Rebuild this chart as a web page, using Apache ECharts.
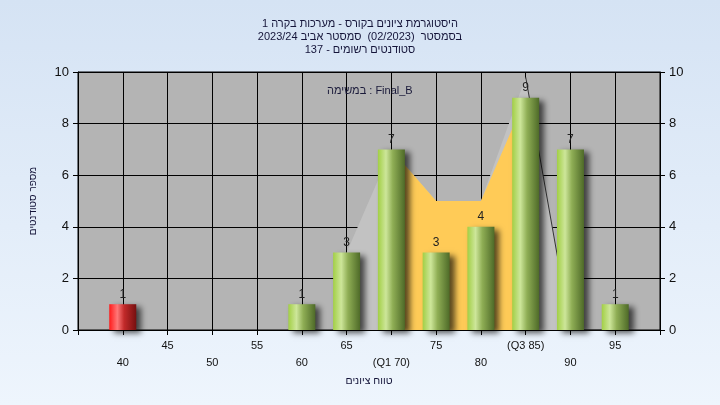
<!DOCTYPE html>
<html>
<head>
<meta charset="utf-8">
<script src="https://cdn.jsdelivr.net/npm/echarts@6/dist/echarts.min.js"></script>
<style>
html,body{margin:0;padding:0;}
body{width:720px;height:405px;background:linear-gradient(#d5e3f4,#eef5fd);}
#c{width:720px;height:405px;}
</style>
</head>
<body>
<div id="c"></div>
<script>
// ---- data ----
const grades = [40, 45, 50, 55, 60, 65, 70, 75, 80, 85, 90, 95];
const counts = [1, 0, 0, 0, 1, 3, 7, 3, 4, 9, 7, 1];
const tickLabels = {40:'40',45:'45',50:'50',55:'55',60:'60',65:'65',70:'(Q1 70)',75:'75',80:'80',85:'(Q3 85)',90:'90',95:'95'};
const failBelow = 55;
// inter-quartile polygon (yellow)
const iqrX = [70, 75, 80, 85];
const iqrY = [7, 5, 5, 9];
// frequency polygon (light grey)
const polyX = [65, 70, 75, 80, 85, 90];
const polyY = [3, 7, 5, 5, 9.8, 0];
// dark edge line
const edgeX = [85, 90, 94];
const edgeY = [9.8, 0, 0];

const titleLines = ['היסטוגרמת ציונים בקורס - מערכות בקרה 1', 'בסמסטר  (02/2023)  סמסטר אביב 2023/24', 'סטודנטים רשומים - 137'];
const taskText = 'במשימה : Final_B';
const xName = 'טווח ציונים';
const yName = 'מספר סטודנטים';

const green = {type:'linear',x:0,y:0,x2:1,y2:0,colorStops:[
  {offset:0,color:'#a2cf45'},{offset:0.3,color:'#cde69a'},{offset:0.55,color:'#8fae55'},{offset:1,color:'#4e6a28'}]};
const red = {type:'linear',x:0,y:0,x2:1,y2:0,colorStops:[
  {offset:0,color:'#ff1a1a'},{offset:0.3,color:'#ff7777'},{offset:0.55,color:'#c22a2a'},{offset:1,color:'#761010'}]};

const barData = [];
grades.forEach((g,i)=>{
  if(counts[i] > 0){
    barData.push({value:[g,counts[i]], itemStyle:{color: g < failBelow ? red : green}});
  }
});
const zip = (a,b)=>a.map((v,i)=>[v,b[i]]);

const chart = echarts.init(document.getElementById('c'), null, {renderer:'canvas'});
const font = 'Liberation Sans, Arial, sans-serif';
chart.setOption({
  animation:false,
  backgroundColor:'transparent',
  title:[{
    text: titleLines.join('\n'),
    left:'center', top:12,
    textStyle:{fontSize:11, fontWeight:'normal', color:'#15153a', fontFamily:font, lineHeight:13}
  },{
    text: taskText, left:322, top:80,
    textStyle:{fontSize:11, fontWeight:'normal', color:'#1a1a3a', fontFamily:font}
  }],
  grid:{left:78, right:60, top:72, bottom:75, show:true, backgroundColor:'#b4b4b4', borderColor:'#000', borderWidth:1},
  xAxis:{
    type:'value', min:35, max:100, interval:5,
    name:xName, nameLocation:'middle', nameGap:44,
    nameTextStyle:{fontSize:10.5, color:'#15153a', fontFamily:font},
    axisLine:{lineStyle:{color:'#000'}},
    axisTick:{show:true, length:5, lineStyle:{color:'#000'}},
    splitLine:{show:true, lineStyle:{color:'#000', width:1}},
    axisLabel:{
      color:'#111', fontSize:11, fontFamily:font, margin:7, lineHeight:17,
      formatter:function(v){
        const t = tickLabels[v];
        if(!t) return '';
        return ((v/5)%2===1) ? t : '\n'+t;
      }
    }
  },
  yAxis:[{
    type:'value', min:0, max:10, interval:2, position:'left',
    name:yName, nameLocation:'middle', nameGap:40, nameRotate:90,
    nameTextStyle:{fontSize:10, color:'#15153a', fontFamily:font},
    axisLine:{show:true, lineStyle:{color:'#000'}},
    axisTick:{show:true, length:5, lineStyle:{color:'#000'}},
    splitLine:{show:true, lineStyle:{color:'#000', width:1}},
    axisLabel:{color:'#111', fontSize:13, fontFamily:font, margin:9}
  },{
    type:'value', min:0, max:10, interval:2, position:'right',
    axisLine:{show:true, lineStyle:{color:'#000'}},
    axisTick:{show:true, length:5, lineStyle:{color:'#000'}},
    splitLine:{show:false},
    axisLabel:{color:'#111', fontSize:13, fontFamily:font, margin:9}
  }],
  series:[{
    type:'line', z:1, data:zip(polyX,polyY), symbol:'none',
    lineStyle:{width:0}, areaStyle:{color:'#c2c2c2', opacity:1}, silent:true
  },{
    type:'line', z:2, data:zip(iqrX,iqrY), symbol:'none',
    lineStyle:{width:0}, areaStyle:{color:'#ffcb57', opacity:1}, silent:true
  },{
    type:'line', z:3, data:zip(edgeX,edgeY), symbol:'none',
    lineStyle:{width:1, color:'#333'}, silent:true
  },{
    type:'bar', z:4, barWidth:27, data:barData,
    itemStyle:{shadowColor:'rgba(0,0,0,0.65)', shadowBlur:6, shadowOffsetX:5, shadowOffsetY:3},
    label:{show:true, position:'top', distance:4, color:'#222', fontSize:12, fontFamily:font, formatter:p=>p.value[1]}
  }]
});
</script>
</body>
</html>
